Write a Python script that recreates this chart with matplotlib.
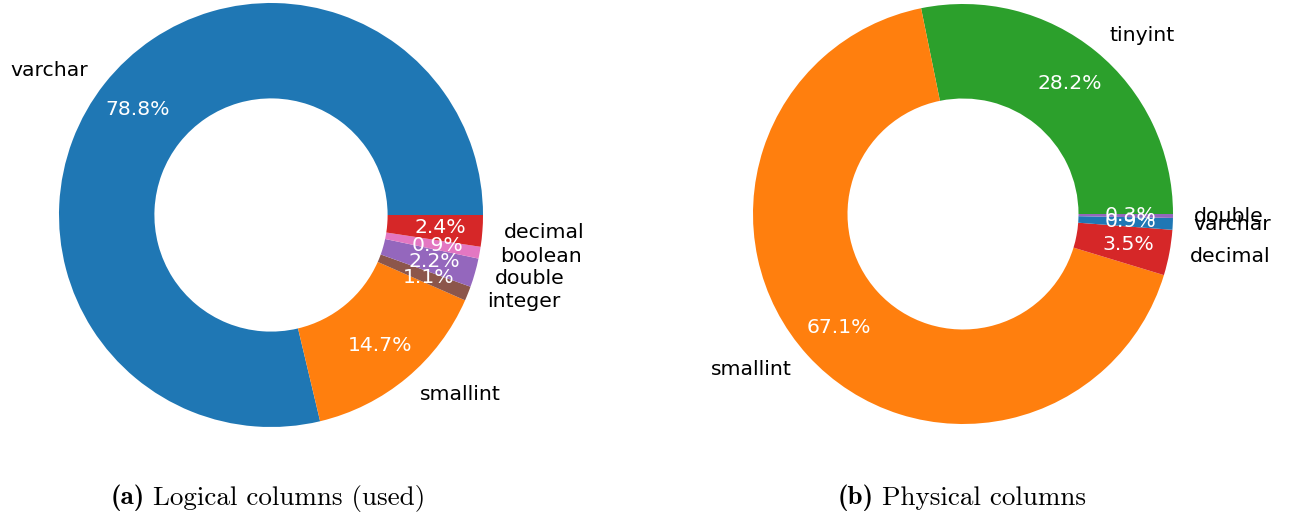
import matplotlib
matplotlib.use("Agg")
from matplotlib import pyplot as plt

plt.rcParams.update({"font.family": "DejaVu Sans",
                     "axes.unicode_minus": False})

# Logical columns (used)
logical_labels = ["varchar", "smallint", "integer", "double", "boolean", "decimal"]
logical_values = [78.8, 14.7, 1.1, 2.2, 0.9, 2.4]

# Physical columns
physical_labels = ["tinyint", "smallint", "decimal", "varchar", "double"]
physical_values = [28.2, 67.1, 3.5, 0.9, 0.3]

# one colour per type, shared by both charts
type_colors = {"varchar": "C0", "smallint": "C1", "tinyint": "C2", "decimal": "C3",
               "double": "C4", "integer": "C5", "boolean": "C6"}

caption_tags = ["(a)", "(b)"]
caption_texts = ["Logical columns (used)", "Physical columns"]


def donut(ax, labels, values):
    total = sum(values)
    # show the values as read, not renormalised
    wedges, texts, autotexts = ax.pie(values, labels=labels,
                                      colors=[type_colors[l] for l in labels],
                                      autopct=lambda p: f"{p * total / 100:.1f}%",
                                      pctdistance=0.8, labeldistance=1.1,
                                      wedgeprops={"width": 0.45},
                                      textprops={"fontsize": 14.7})
    for t in autotexts:
        t.set_color("white")
    ax.set_xlim(-1, 1)
    ax.set_ylim(-1, 1)


def caption(fig, xc, yc, tag, text, size=19.5):
    # bold tag + roman text, centred as one group
    t1 = fig.text(0, yc, tag, va="center", fontsize=size, family="cmb10")
    t2 = fig.text(0, yc, text, va="center", fontsize=size, family="cmr10")
    fig.canvas.draw()
    r = fig.canvas.get_renderer()
    w1 = t1.get_window_extent(r).width
    w2 = t2.get_window_extent(r).width
    gap = size * 0.45
    x0 = xc - (w1 + gap + w2) / 2
    t1.set_x(x0 / W)
    t2.set_x((x0 + w1 + gap) / W)


W, H = 1291, 520
fig = plt.figure(figsize=(W / 100, H / 100), dpi=100)

ax1 = fig.add_axes([59 / W, 93 / H, 424 / W, 424 / H])
donut(ax1, logical_labels, logical_values)

ax2 = fig.add_axes([753 / W, 96 / H, 420 / W, 420 / H])
donut(ax2, physical_labels, physical_values)

caption(fig, 268, 22 / H, caption_tags[0], caption_texts[0])
caption(fig, 962, 22 / H, caption_tags[1], caption_texts[1])

fig.savefig("out.png", dpi=100)
